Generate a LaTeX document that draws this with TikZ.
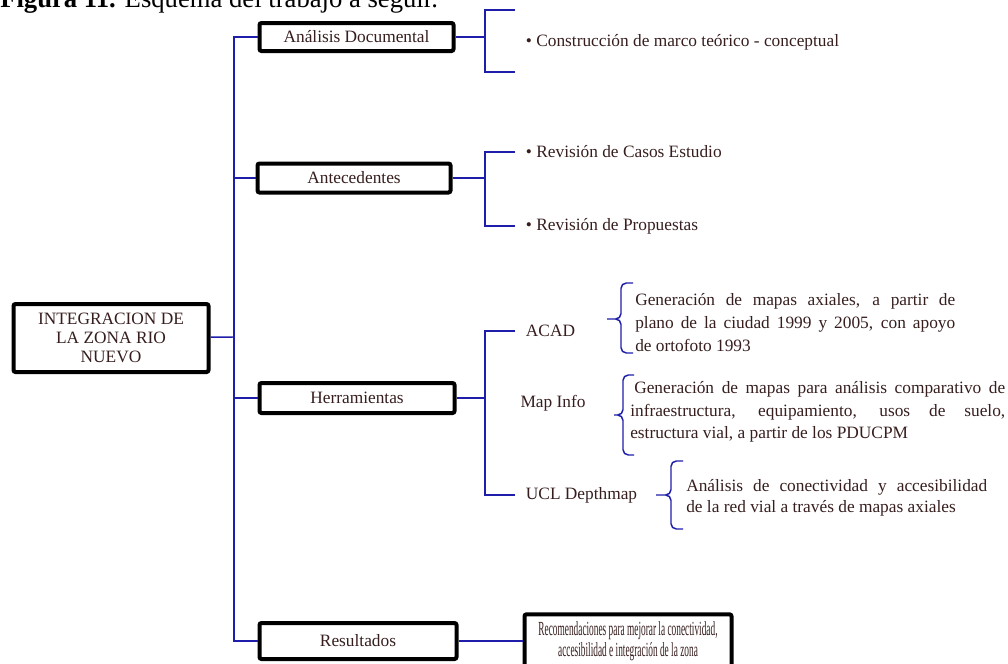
\documentclass[tikz,border=0pt]{standalone}
\usepackage{fontspec}
\setmainfont{Liberation Serif}
\newfontfamily\narrowfont[FakeStretch=0.467]{Liberation Serif}
\definecolor{inkbrown}{RGB}{55,30,30}
\definecolor{linkblue}{RGB}{30,30,170}

\begin{document}
\begin{tikzpicture}[
    x=0.75pt, y=-0.75pt,
    every node/.style={font=\fontsize{13}{16}\selectfont, text=inkbrown},
    box/.style={draw=black, line width=3pt, rounded corners=1.5pt, fill=white, inner sep=0pt, align=center},
    link/.style={draw=linkblue, line width=1.1pt},
    item/.style={anchor=west, inner xsep=8pt},
    para/.style={anchor=west, inner sep=0pt, align=justify}
]
\useasboundingbox (0,0) rectangle (1008,664);

\node[anchor=base west, inner sep=0pt, text=black, font=\fontsize{20}{24}\selectfont] (cap) at (0,7) {\textbf{Figura 11.} Esquema del trabajo a seguir.};

% main column of boxes
\node[box, minimum width=146.25pt, minimum height=51pt, font=\fontsize{13}{14.5}\selectfont] (main) at (111,338) {INTEGRACION DE\\LA ZONA RIO\\NUEVO};
\node[box, minimum width=145.5pt, minimum height=21pt] (ana) at (356.5,37) {Análisis Documental};
\node[box, minimum width=144.75pt, minimum height=21.75pt] (ant) at (354,178) {Antecedentes};
\node[box, minimum width=146.25pt, minimum height=22.5pt] (her) at (357,398) {Herramientas};
\node[box, minimum width=147.75pt, minimum height=27pt] (res) at (358,641) {Resultados};
\node[box, minimum width=155.25pt, minimum height=40pt, font=\narrowfont\fontsize{15}{15.75}\selectfont] (rec) at (628,641) {Recomendaciones para mejorar la conectividad,\\accesibilidad e integración de la zona};

\coordinate (tr) at (234,337);
\coordinate (ja) at (485,37);
\coordinate (jb) at (485,178);
\coordinate (jh) at (485,398);
\coordinate (a1) at (515,10);
\coordinate (a2) at (515,72);

% trunk
\draw[link] (main) -- (tr);
\draw[link] (ana.west) -- (ana.west -| tr) -- (res.west -| tr) -- (res.west);
\draw[link] (ant.west) -- (ant.west -| tr);
\draw[link] (her.west) -- (her.west -| tr);

% Analisis Documental
\node[item] (marco) at (515,42) {• Construcción de marco teórico - conceptual};
\draw[link] (ana) -- (ja);
\draw[link] (a1) -- (a1 -| ja) -- (a2 -| ja) -- (a2);

% Antecedentes
\node[item] (casos) at (515,152) {• Revisión de Casos Estudio};
\node[item] (prop) at (515,226) {• Revisión de Propuestas};
\draw[link] (ant) -- (jb);
\draw[link] (casos.west) -| (jb) |- (prop.west);

% Herramientas
\node[item] (acad) at (515,331) {ACAD};
\node (mapinfo) at (553,403) {Map Info};
\node[item] (ucl) at (515,495) {UCL Depthmap};
\draw[link] (her) -- (jh);
\draw[link] (acad.west) -| (jh) |- (ucl.west);

\node[para, text width=240pt, font=\fontsize{13}{17.25}\selectfont] (tacad) at (635,323)
    {Generación de mapas axiales, a partir de\linebreak plano de la ciudad 1999 y 2005, con apoyo\linebreak de ortofoto 1993};
\node[para, text width=281.25pt, font=\fontsize{13}{16.9}\selectfont] (tmap) at (630,412)
    {\hspace{3pt}Generación de mapas para análisis comparativo de\linebreak infraestructura, equipamiento, usos de suelo,\linebreak estructura vial, a partir de los PDUCPM};
\node[para, text width=225.75pt, font=\fontsize{13}{15.75}\selectfont] (tucl) at (686,498)
    {Análisis de conectividad y accesibilidad\linebreak de la red vial a través de mapas axiales};

% braces
\draw[link, rounded corners=4pt] (633,283) -- (621,283) -- (621,319) -- (607,319) (633,353) -- (621,353) -- (621,319) -- (607,319);
\draw[link, rounded corners=4pt] (634,375) -- (623,375) -- (623,415) -- (614,415) (634,455) -- (623,455) -- (623,415) -- (614,415);
\draw[link, rounded corners=4pt] (683,461) -- (671,461) -- (671,495) -- (656,495) (683,529) -- (671,529) -- (671,495) -- (656,495);

% Resultados
\draw[link] (res) -- (rec);
\end{tikzpicture}
\end{document}
